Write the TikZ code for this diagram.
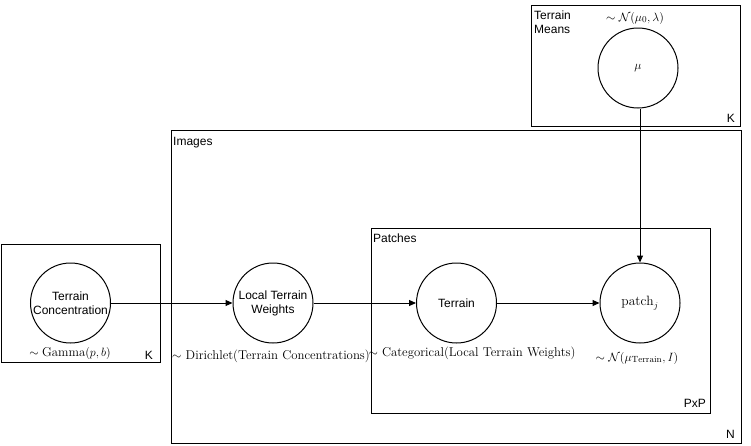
\documentclass[tikz,border=0pt]{standalone}
\usepackage{fontspec}
\newfontfamily\hv{Liberation Sans}
\usetikzlibrary{arrows.meta}
\begin{document}
\begin{tikzpicture}[x=1pt,y=-1pt,
  plate/.style={draw,line width=1pt},
  rv/.style={draw,circle,line width=1pt,minimum size=80pt,inner sep=0pt,align=center,font=\hv\fontsize{12}{14}\selectfont},
  sans/.style={font=\hv\fontsize{12}{14}\selectfont,inner sep=0pt},
  mlab/.style={font=\fontsize{12.8}{14}\selectfont,inner sep=0pt},
  conn/.style={line width=1pt,-{Triangle[length=7pt,width=6pt]}}]
\useasboundingbox (0,0) rectangle (751,445);
% plates
\draw[plate] (531,5) rectangle (740,126);
\draw[plate] (171,130) rectangle (741,443);
\draw[plate] (371,228) rectangle (710,413);
\draw[plate] (1,244) rectangle (160,362);
% plate labels
\node[sans,anchor=north west,align=left] (tm) at (534,11) {Terrain\\Means};
\node[sans,anchor=base east] (k1) at (735,122) {K};
\node[sans,anchor=north west] (img) at (173,137) {Images};
\node[sans,anchor=north west] (pat) at (373,234) {Patches};
\node[sans,anchor=base east] (pxp) at (706,407) {PxP};
\node[sans,anchor=base east] (nn) at (735,438) {N};
\node[sans,anchor=base east] (k2) at (153,359) {K};
% variables
\node[rv] (mu) at (638,68) {\fontsize{13}{15}\selectfont$\mu$};
\node[rv] (tc) at (70.5,303) {Terrain\\Concentration};
\node[rv] (ltw) at (273,303) {Local Terrain\\Weights};
\node[rv] (ter) at (456.5,303) {Terrain};
\node[rv] (patch) at (640,303) {\fontsize{13.5}{15}\selectfont$\mathrm{patch}_j$};
% distribution labels
\node[mlab] (mul) at (635,18) {$\sim\mathcal{N}(\mu_0,\lambda)$};
\node[mlab] (tcl) at (70,353) {$\sim\mathrm{Gamma}(p,b)$};
\node[mlab] (ltwl) at (271,356) {$\sim$ Dirichlet(Terrain Concentrations)};
\node[mlab] (terl) at (472,353) {$\sim$ Categorical(Local Terrain Weights)};
\node[mlab] (patchl) at (637,358) {$\sim\mathcal{N}(\mu_{\mathrm{Terrain}},I)$};
% connectors
\draw[conn] (tc) -- (ltw);
\draw[conn] (ltw) -- (ter);
\draw[conn] (ter) -- (patch);
\draw[conn] (mu.south -| patch.north) -- (patch.north);
\end{tikzpicture}
\end{document}
